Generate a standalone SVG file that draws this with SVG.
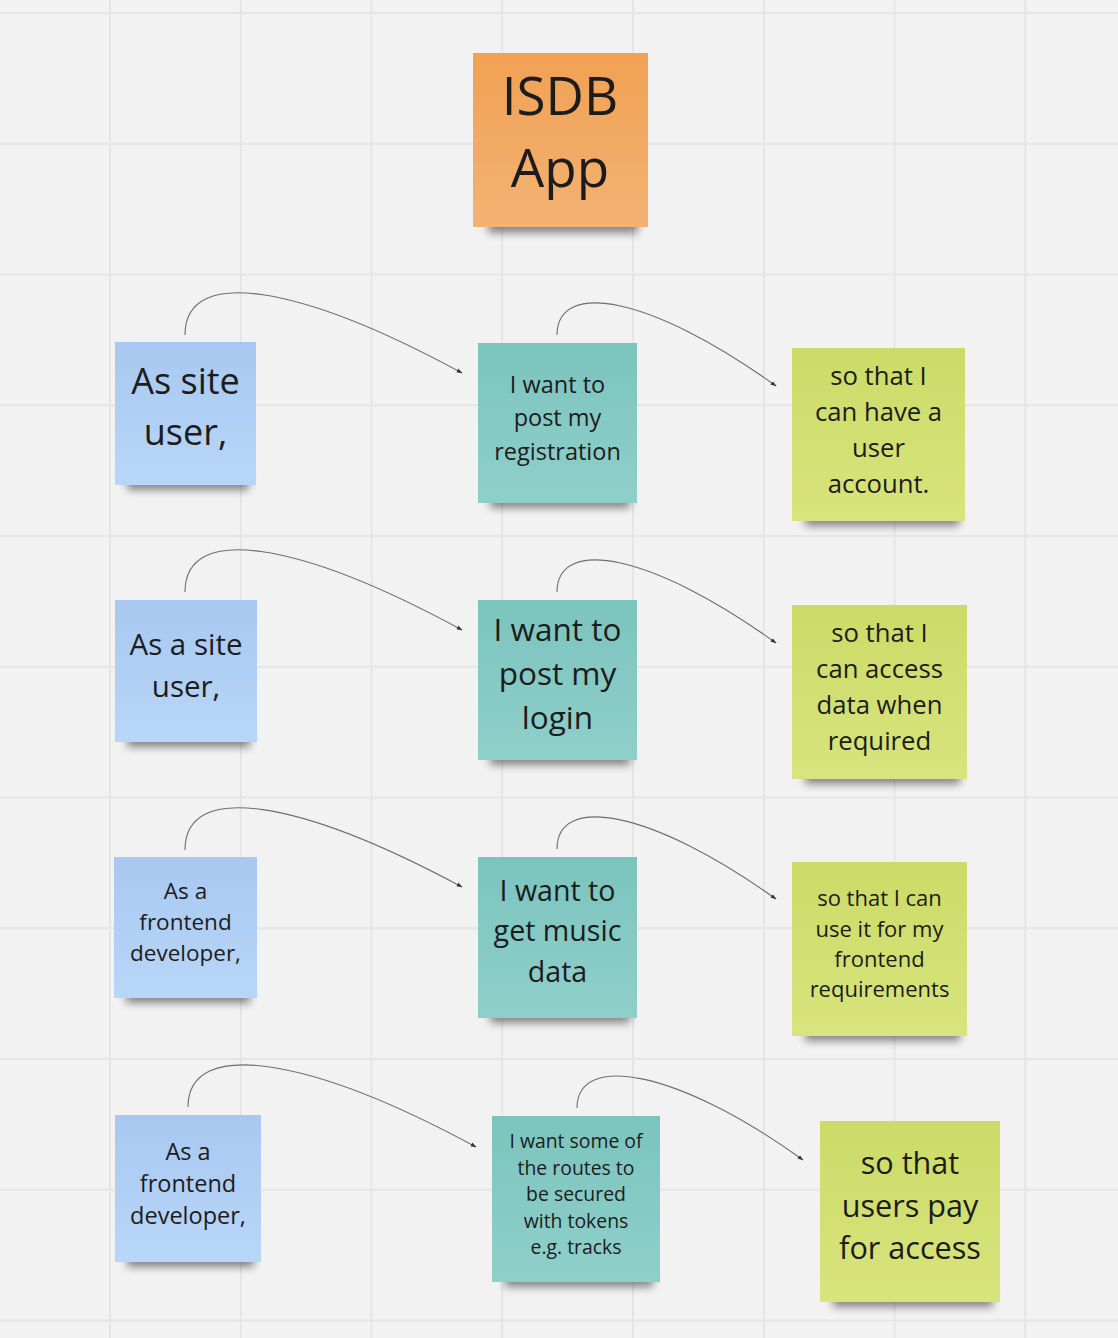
<svg xmlns="http://www.w3.org/2000/svg" width="1118" height="1338" viewBox="0 0 1118 1338">
<defs>
<style>
.grid line{stroke:#e5e5e5;stroke-width:2}
.t{font-family:"Open Sans","Noto Sans","DejaVu Sans",sans-serif;fill:#1c1c1c;text-anchor:middle}
.conn path{fill:none;stroke:#6e6e6e;stroke-width:1.1}
.sh{fill:#000;opacity:.45;filter:url(#blur)}
</style>
<filter id="blur" x="-20%" y="-100%" width="140%" height="300%"><feGaussianBlur stdDeviation="4"/></filter>
<linearGradient id="gO" x1="0" y1="0" x2="0" y2="1"><stop offset="0" stop-color="#f0a153"/><stop offset="1" stop-color="#f4b274"/></linearGradient>
<linearGradient id="gB" x1="0" y1="0" x2="0" y2="1"><stop offset="0" stop-color="#a8c8f1"/><stop offset="1" stop-color="#b8d6f7"/></linearGradient>
<linearGradient id="gT" x1="0" y1="0" x2="0" y2="1"><stop offset="0" stop-color="#7cc4be"/><stop offset="1" stop-color="#8fcfca"/></linearGradient>
<linearGradient id="gG" x1="0" y1="0" x2="0" y2="1"><stop offset="0" stop-color="#cbdb67"/><stop offset="1" stop-color="#d8e47d"/></linearGradient>
<marker id="arr" viewBox="0 0 10 10" refX="9" refY="5" markerWidth="6" markerHeight="6" orient="auto" markerUnits="userSpaceOnUse"><path d="M0,1.5 L10,5 L0,8.5 Z" fill="#333"/></marker>
</defs>
<rect width="1118" height="1338" fill="#f2f2f2"/>
<g class="grid">
<line x1="110" y1="0" x2="110" y2="1338"/><line x1="240.75" y1="0" x2="240.75" y2="1338"/><line x1="371.5" y1="0" x2="371.5" y2="1338"/><line x1="502.25" y1="0" x2="502.25" y2="1338"/><line x1="633" y1="0" x2="633" y2="1338"/><line x1="763.75" y1="0" x2="763.75" y2="1338"/><line x1="894.5" y1="0" x2="894.5" y2="1338"/><line x1="1025.25" y1="0" x2="1025.25" y2="1338"/>
<line x1="0" y1="13" x2="1118" y2="13"/><line x1="0" y1="143.75" x2="1118" y2="143.75"/><line x1="0" y1="274.5" x2="1118" y2="274.5"/><line x1="0" y1="405.25" x2="1118" y2="405.25"/><line x1="0" y1="536" x2="1118" y2="536"/><line x1="0" y1="666.75" x2="1118" y2="666.75"/><line x1="0" y1="797.5" x2="1118" y2="797.5"/><line x1="0" y1="928.25" x2="1118" y2="928.25"/><line x1="0" y1="1059" x2="1118" y2="1059"/><line x1="0" y1="1189.75" x2="1118" y2="1189.75"/><line x1="0" y1="1320.5" x2="1118" y2="1320.5"/>
</g>
<g class="conn">
<path d="M185,335 C185,265 300,285 462,373" marker-end="url(#arr)"/>
<path d="M557,335 C557,280 650,295 776,386" marker-end="url(#arr)"/>
<path d="M185,592 C185,522 300,542 462,630" marker-end="url(#arr)"/>
<path d="M557,592 C557,537 650,552 776,643" marker-end="url(#arr)"/>
<path d="M185,850 C185,780 300,800 462,887" marker-end="url(#arr)"/>
<path d="M557,849 C557,794 650,809 776,899" marker-end="url(#arr)"/>
<path d="M188,1107 C188,1037 310,1057 476,1147" marker-end="url(#arr)"/>
<path d="M577,1108 C577,1053 675,1068 803,1160" marker-end="url(#arr)"/>
</g>
<g id="isdb">
<rect class="sh" x="488" y="217" width="150" height="16"/>
<rect x="473" y="53" width="175" height="174" fill="url(#gO)"/>
<text class="t" font-size="53" x="560" y="115">ISDB</text>
<text class="t" font-size="53" x="560" y="187">App</text>
</g>
<g id="r1-who">
<rect class="sh" x="127" y="475" width="122" height="15"/>
<rect x="115" y="342" width="141" height="143" fill="url(#gB)"/>
<text class="t" font-size="36" x="185.5" y="394">As site</text>
<text class="t" font-size="36" x="185.5" y="445">user,</text>
</g>
<g id="r1-want">
<rect class="sh" x="490" y="493" width="140" height="15"/>
<rect x="478" y="343" width="159" height="160" fill="url(#gT)"/>
<text class="t" font-size="23.5" x="557.5" y="393">I want to</text>
<text class="t" font-size="23.5" x="557.5" y="426">post my</text>
<text class="t" font-size="23.5" x="557.5" y="460">registration</text>
</g>
<g id="r1-why">
<rect class="sh" x="805" y="511" width="154" height="15"/>
<rect x="792" y="348" width="173" height="173" fill="url(#gG)"/>
<text class="t" font-size="25.7" x="878.5" y="385">so that I</text>
<text class="t" font-size="25.7" x="878.5" y="421">can have a</text>
<text class="t" font-size="25.7" x="878.5" y="457">user</text>
<text class="t" font-size="25.7" x="878.5" y="493">account.</text>
</g>
<g id="r2-who">
<rect class="sh" x="127" y="732" width="123" height="15"/>
<rect x="115" y="600" width="142" height="142" fill="url(#gB)"/>
<text class="t" font-size="29.5" x="186" y="655">As a site</text>
<text class="t" font-size="29.5" x="186" y="697">user,</text>
</g>
<g id="r2-want">
<rect class="sh" x="490" y="750" width="140" height="15"/>
<rect x="478" y="600" width="159" height="160" fill="url(#gT)"/>
<text class="t" font-size="31.5" x="557.5" y="641">I want to</text>
<text class="t" font-size="31.5" x="557.5" y="685">post my</text>
<text class="t" font-size="31.5" x="557.5" y="729">login</text>
</g>
<g id="r2-why">
<rect class="sh" x="805" y="769" width="155" height="15"/>
<rect x="792" y="605" width="175" height="174" fill="url(#gG)"/>
<text class="t" font-size="25.7" x="879.5" y="642">so that I</text>
<text class="t" font-size="25.7" x="879.5" y="678">can access</text>
<text class="t" font-size="25.7" x="879.5" y="714">data when</text>
<text class="t" font-size="25.7" x="879.5" y="750">required</text>
</g>
<g id="r3-who">
<rect class="sh" x="126" y="988" width="124" height="15"/>
<rect x="114" y="857" width="143" height="141" fill="url(#gB)"/>
<text class="t" font-size="22.5" x="185.5" y="899">As a</text>
<text class="t" font-size="22.5" x="185.5" y="930">frontend</text>
<text class="t" font-size="22.5" x="185.5" y="961">developer,</text>
</g>
<g id="r3-want">
<rect class="sh" x="490" y="1008" width="140" height="15"/>
<rect x="478" y="857" width="159" height="161" fill="url(#gT)"/>
<text class="t" font-size="28.6" x="557.5" y="901">I want to</text>
<text class="t" font-size="28.6" x="557.5" y="941">get music</text>
<text class="t" font-size="28.6" x="557.5" y="982">data</text>
</g>
<g id="r3-why">
<rect class="sh" x="805" y="1026" width="155" height="15"/>
<rect x="792" y="862" width="175" height="174" fill="url(#gG)"/>
<text class="t" font-size="22" x="879.5" y="906">so that I can</text>
<text class="t" font-size="22" x="879.5" y="937">use it for my</text>
<text class="t" font-size="22" x="879.5" y="967">frontend</text>
<text class="t" font-size="22" x="879.5" y="997">requirements</text>
</g>
<g id="r4-who">
<rect class="sh" x="127" y="1252" width="127" height="15"/>
<rect x="115" y="1115" width="146" height="147" fill="url(#gB)"/>
<text class="t" font-size="23.5" x="188" y="1160">As a</text>
<text class="t" font-size="23.5" x="188" y="1192">frontend</text>
<text class="t" font-size="23.5" x="188" y="1224">developer,</text>
</g>
<g id="r4-want">
<rect class="sh" x="505" y="1272" width="148" height="15"/>
<rect x="492" y="1116" width="168" height="166" fill="url(#gT)"/>
<text class="t" font-size="19.4" x="576" y="1148">I want some of</text>
<text class="t" font-size="19.4" x="576" y="1175">the routes to</text>
<text class="t" font-size="19.4" x="576" y="1201">be secured</text>
<text class="t" font-size="19.4" x="576" y="1228">with tokens</text>
<text class="t" font-size="19.4" x="576" y="1254">e.g. tracks</text>
</g>
<g id="r4-why">
<rect class="sh" x="833" y="1292" width="160" height="15"/>
<rect x="820" y="1121" width="180" height="181" fill="url(#gG)"/>
<text class="t" font-size="30.6" x="910" y="1174">so that</text>
<text class="t" font-size="30.6" x="910" y="1217">users pay</text>
<text class="t" font-size="30.6" x="910" y="1259">for access</text>
</g>
</svg>
